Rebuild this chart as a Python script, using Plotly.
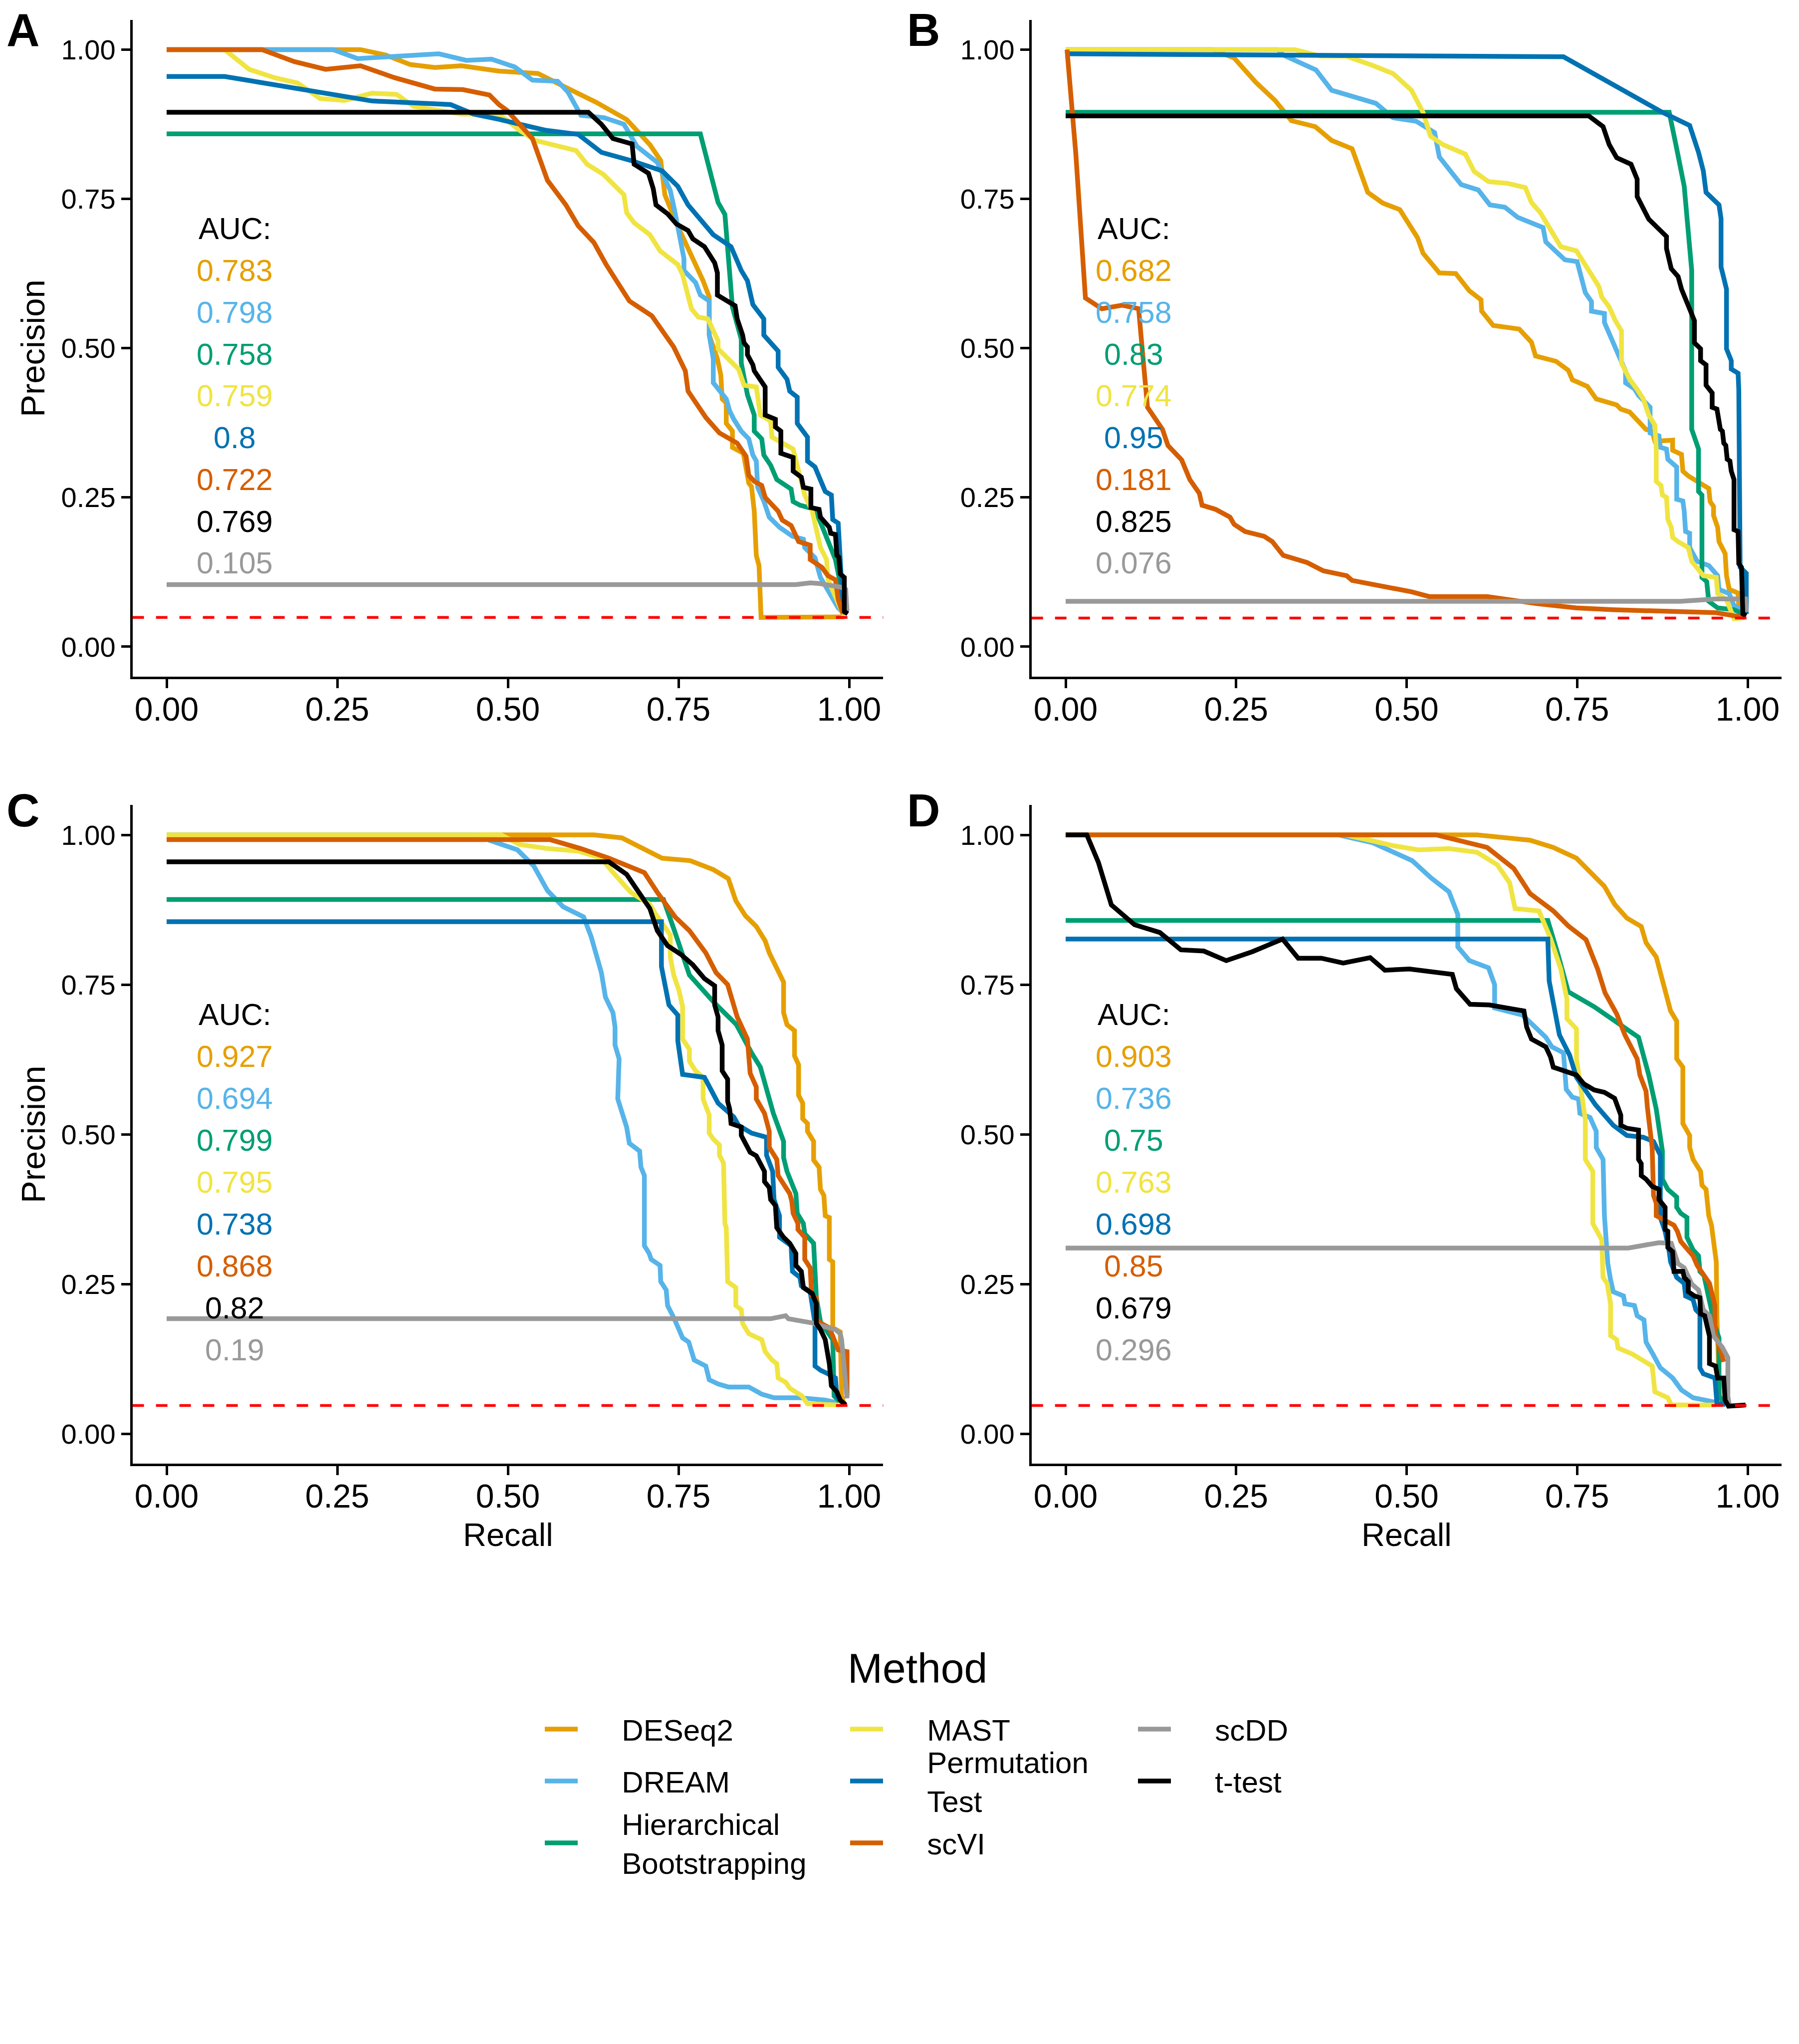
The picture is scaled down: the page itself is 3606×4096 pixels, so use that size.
import plotly.graph_objects as go

W, H = 3606, 4096
BODY_MARGIN = 8  # the page body margin that surrounds the plot div
FONT = "Liberation Sans, Arial, Helvetica, sans-serif"

METHODS = ["DESeq2", "DREAM", "Hierarchical Bootstrapping", "MAST",
           "Permutation Test", "scVI", "scDD", "t-test"]
LEGEND_LABELS = ["DESeq2", "DREAM", "Hierarchical<br>Bootstrapping", "MAST",
                 "Permutation<br>Test", "scVI", "scDD", "t-test"]
COLORS = ["#E69F00", "#56B4E9", "#009E73", "#F0E442",
          "#0072B2", "#D55E00", "#999999", "#000000"]
PANELS = ["A", "B", "C", "D"]
TICK_VALUES = [0, 0.25, 0.5, 0.75, 1.0]
TICK_LABELS = ["0.00", "0.25", "0.50", "0.75", "1.00"]
BASELINE = [0.049, 0.048, 0.047, 0.047]

# AUC values, in method order (DESeq2, DREAM, Hier., MAST, Perm., scVI, scDD, t-test)
AUC_A = [0.783, 0.798, 0.758, 0.759, 0.8, 0.722, 0.105, 0.769]
AUC_B = [0.682, 0.758, 0.83, 0.774, 0.95, 0.181, 0.076, 0.825]
AUC_C = [0.927, 0.694, 0.799, 0.795, 0.738, 0.868, 0.19, 0.82]
AUC_D = [0.903, 0.736, 0.75, 0.763, 0.698, 0.85, 0.296, 0.679]
AUC_ROW_ORDER = [0, 1, 2, 3, 4, 5, 7, 6]  # t-test listed before scDD

# ---------------- Panel A (recall, precision) ----------------
A_DESEQ2 = [(0, 1.0), (0.284, 1.0), (0.321, 0.991), (0.357, 0.975), (0.393, 0.970), (0.432, 0.973),
            (0.487, 0.964), (0.544, 0.960), (0.581, 0.939), (0.629, 0.912), (0.674, 0.883), (0.708, 0.841),
            (0.724, 0.814), (0.730, 0.757), (0.749, 0.704), (0.775, 0.643), (0.786, 0.613), (0.795, 0.586),
            (0.795, 0.522), (0.807, 0.482), (0.812, 0.455), (0.814, 0.415), (0.820, 0.408), (0.820, 0.374),
            (0.829, 0.361), (0.829, 0.334), (0.845, 0.324), (0.853, 0.274), (0.857, 0.268), (0.861, 0.227),
            (0.864, 0.153), (0.868, 0.136), (0.871, 0.049), (0.993, 0.050)]
A_DREAM = [(0, 1.0), (0.244, 1.0), (0.280, 0.985), (0.399, 0.993), (0.439, 0.982), (0.476, 0.984),
           (0.510, 0.971), (0.536, 0.949), (0.573, 0.947), (0.588, 0.929), (0.607, 0.890), (0.641, 0.886),
           (0.670, 0.875), (0.689, 0.838), (0.719, 0.811), (0.738, 0.764), (0.745, 0.727), (0.758, 0.650),
           (0.758, 0.630), (0.775, 0.610), (0.782, 0.589), (0.795, 0.579), (0.795, 0.522), (0.801, 0.482),
           (0.801, 0.442), (0.820, 0.415), (0.825, 0.395), (0.831, 0.381), (0.842, 0.361), (0.853, 0.348),
           (0.859, 0.321), (0.864, 0.311), (0.866, 0.267), (0.875, 0.244), (0.883, 0.217), (0.898, 0.200),
           (0.917, 0.185), (0.933, 0.180), (0.935, 0.166), (0.950, 0.149), (0.958, 0.116), (0.971, 0.092),
           (0.984, 0.065), (0.993, 0.055)]
A_HIER = [(0, 0.859), (0.782, 0.859), (0.808, 0.744), (0.818, 0.724), (0.829, 0.569), (0.842, 0.515),
          (0.842, 0.475), (0.851, 0.422), (0.861, 0.388), (0.861, 0.361), (0.872, 0.348), (0.875, 0.321),
          (0.885, 0.304), (0.894, 0.280), (0.915, 0.264), (0.918, 0.243), (0.928, 0.237), (0.950, 0.230),
          (0.961, 0.200), (0.969, 0.176), (0.980, 0.146), (0.987, 0.106), (0.993, 0.055)]
A_MAST = [(0, 1.0), (0.085, 1.0), (0.121, 0.967), (0.158, 0.953), (0.192, 0.944), (0.225, 0.918),
          (0.261, 0.915), (0.301, 0.927), (0.337, 0.925), (0.362, 0.905), (0.432, 0.892), (0.487, 0.892),
          (0.517, 0.865), (0.540, 0.848), (0.600, 0.831), (0.616, 0.808), (0.640, 0.791), (0.670, 0.757),
          (0.674, 0.727), (0.685, 0.710), (0.708, 0.690), (0.723, 0.663), (0.749, 0.640), (0.756, 0.623),
          (0.769, 0.566), (0.779, 0.552), (0.793, 0.549), (0.808, 0.512), (0.808, 0.499), (0.820, 0.485),
          (0.838, 0.465), (0.846, 0.438), (0.864, 0.435), (0.870, 0.388), (0.885, 0.378), (0.887, 0.351),
          (0.918, 0.331), (0.926, 0.294), (0.935, 0.254), (0.946, 0.227), (0.958, 0.166), (0.967, 0.146),
          (0.969, 0.113), (0.987, 0.065), (0.993, 0.052)]
A_PERM = [(0, 0.955), (0.085, 0.955), (0.301, 0.914), (0.416, 0.908), (0.450, 0.892), (0.488, 0.883),
          (0.555, 0.865), (0.603, 0.858), (0.637, 0.828), (0.681, 0.814), (0.726, 0.797), (0.749, 0.771),
          (0.764, 0.740), (0.801, 0.690), (0.827, 0.670), (0.842, 0.630), (0.851, 0.613), (0.859, 0.573),
          (0.875, 0.549), (0.875, 0.522), (0.896, 0.495), (0.896, 0.468), (0.909, 0.448), (0.913, 0.428),
          (0.924, 0.418), (0.924, 0.374), (0.939, 0.351), (0.939, 0.311), (0.950, 0.301), (0.958, 0.277),
          (0.965, 0.260), (0.974, 0.254), (0.976, 0.213), (0.984, 0.207), (0.987, 0.139), (0.991, 0.065),
          (0.995, 0.055)]
A_SCVI = [(0, 1.0), (0.140, 1.0), (0.187, 0.980), (0.233, 0.967), (0.284, 0.973), (0.334, 0.953),
          (0.393, 0.934), (0.434, 0.933), (0.473, 0.924), (0.487, 0.908), (0.499, 0.898), (0.536, 0.851),
          (0.558, 0.781), (0.585, 0.740), (0.603, 0.705), (0.626, 0.677), (0.644, 0.640), (0.678, 0.579),
          (0.711, 0.554), (0.743, 0.502), (0.760, 0.462), (0.764, 0.428), (0.790, 0.384), (0.810, 0.358),
          (0.836, 0.341), (0.849, 0.319), (0.853, 0.287), (0.861, 0.277), (0.872, 0.270), (0.877, 0.250),
          (0.896, 0.227), (0.902, 0.212), (0.915, 0.203), (0.926, 0.176), (0.943, 0.170), (0.943, 0.146),
          (0.960, 0.133), (0.969, 0.119), (0.980, 0.112), (0.984, 0.079), (0.991, 0.055)]
A_SCDD = [(0, 0.104), (0.922, 0.104), (0.943, 0.107), (0.955, 0.106), (0.987, 0.100), (0.995, 0.096),
          (0.997, 0.059)]
A_TTEST = [(0, 0.895), (0.618, 0.895), (0.637, 0.875), (0.654, 0.851), (0.682, 0.842), (0.685, 0.808),
           (0.706, 0.793), (0.713, 0.767), (0.717, 0.740), (0.734, 0.725), (0.747, 0.708), (0.764, 0.697),
           (0.771, 0.683), (0.788, 0.670), (0.803, 0.643), (0.807, 0.626), (0.807, 0.589), (0.833, 0.571),
           (0.836, 0.549), (0.844, 0.522), (0.846, 0.509), (0.851, 0.502), (0.851, 0.489), (0.859, 0.472),
           (0.861, 0.462), (0.877, 0.435), (0.877, 0.388), (0.892, 0.381), (0.892, 0.368), (0.900, 0.361),
           (0.900, 0.324), (0.918, 0.317), (0.918, 0.294), (0.930, 0.284), (0.933, 0.267), (0.944, 0.264),
           (0.944, 0.233), (0.956, 0.230), (0.958, 0.217), (0.971, 0.200), (0.973, 0.190), (0.980, 0.188),
           (0.982, 0.153), (0.985, 0.150), (0.987, 0.122), (0.993, 0.116), (0.993, 0.059), (0.998, 0.055)]

# ---------------- Panel B ----------------
B_DESEQ2 = [(0, 1.0), (0.215, 1.0), (0.247, 0.986), (0.279, 0.945), (0.307, 0.915), (0.331, 0.881),
            (0.366, 0.871), (0.390, 0.848), (0.420, 0.834), (0.443, 0.761), (0.465, 0.743), (0.490, 0.732),
            (0.516, 0.685), (0.524, 0.659), (0.548, 0.626), (0.572, 0.625), (0.592, 0.596), (0.609, 0.581),
            (0.610, 0.562), (0.627, 0.538), (0.665, 0.532), (0.683, 0.510), (0.689, 0.487), (0.719, 0.478),
            (0.737, 0.463), (0.743, 0.447), (0.765, 0.436), (0.778, 0.415), (0.808, 0.405), (0.814, 0.398),
            (0.827, 0.393), (0.838, 0.380), (0.851, 0.364), (0.860, 0.361), (0.864, 0.344), (0.890, 0.346),
            (0.890, 0.329), (0.903, 0.322), (0.905, 0.294), (0.913, 0.286), (0.931, 0.274), (0.943, 0.265),
            (0.945, 0.243), (0.950, 0.235), (0.950, 0.220), (0.956, 0.200), (0.958, 0.176), (0.967, 0.156),
            (0.969, 0.119), (0.973, 0.096), (0.986, 0.090), (0.987, 0.065), (0.993, 0.051)]
B_DREAM = [(0, 1.0), (0.311, 1.0), (0.319, 0.991), (0.367, 0.966), (0.390, 0.932), (0.455, 0.910),
           (0.480, 0.886), (0.514, 0.880), (0.541, 0.861), (0.548, 0.820), (0.580, 0.774), (0.605, 0.765),
           (0.622, 0.740), (0.644, 0.736), (0.663, 0.719), (0.700, 0.702), (0.704, 0.678), (0.732, 0.648),
           (0.750, 0.645), (0.762, 0.593), (0.771, 0.578), (0.771, 0.562), (0.790, 0.558), (0.790, 0.543),
           (0.812, 0.485), (0.821, 0.462), (0.821, 0.442), (0.834, 0.432), (0.840, 0.421), (0.852, 0.408),
           (0.857, 0.401), (0.857, 0.358), (0.870, 0.353), (0.872, 0.334), (0.881, 0.331), (0.883, 0.314),
           (0.896, 0.301), (0.896, 0.247), (0.905, 0.244), (0.907, 0.227), (0.909, 0.193), (0.915, 0.190),
           (0.915, 0.166), (0.926, 0.143), (0.943, 0.136), (0.956, 0.119), (0.958, 0.096), (0.973, 0.089),
           (0.980, 0.069), (0.991, 0.062), (0.993, 0.052)]
B_HIER = [(0, 0.895), (0.885, 0.895), (0.896, 0.834), (0.907, 0.771), (0.918, 0.630), (0.918, 0.364),
          (0.922, 0.351), (0.928, 0.331), (0.928, 0.260), (0.933, 0.254), (0.933, 0.116), (0.940, 0.109),
          (0.943, 0.076), (0.956, 0.065), (0.980, 0.062), (0.993, 0.055)]
B_MAST = [(0, 1.0), (0.336, 1.0), (0.374, 0.989), (0.411, 0.989), (0.449, 0.974), (0.480, 0.960),
          (0.507, 0.932), (0.524, 0.895), (0.535, 0.855), (0.553, 0.841), (0.586, 0.825), (0.599, 0.796),
          (0.620, 0.779), (0.648, 0.776), (0.674, 0.769), (0.683, 0.744), (0.696, 0.727), (0.709, 0.703),
          (0.726, 0.670), (0.749, 0.663), (0.771, 0.623), (0.782, 0.603), (0.786, 0.586), (0.797, 0.569),
          (0.806, 0.546), (0.815, 0.529), (0.815, 0.475), (0.827, 0.448), (0.838, 0.431), (0.847, 0.415),
          (0.855, 0.388), (0.864, 0.371), (0.866, 0.331), (0.866, 0.277), (0.873, 0.270), (0.875, 0.254),
          (0.881, 0.250), (0.883, 0.213), (0.888, 0.200), (0.890, 0.183), (0.898, 0.176), (0.913, 0.166),
          (0.918, 0.143), (0.935, 0.119), (0.954, 0.116), (0.956, 0.089), (0.969, 0.079), (0.976, 0.059),
          (0.980, 0.047), (0.991, 0.048)]
B_PERM = [(0, 0.993), (0.730, 0.988), (0.875, 0.895), (0.915, 0.873), (0.928, 0.828), (0.935, 0.797),
          (0.939, 0.761), (0.958, 0.740), (0.961, 0.717), (0.961, 0.636), (0.969, 0.599), (0.969, 0.499),
          (0.976, 0.479), (0.976, 0.465), (0.986, 0.458), (0.987, 0.431), (0.989, 0.133), (0.998, 0.123),
          (0.998, 0.055)]
B_SCVI = [(0.002, 1.0), (0.015, 0.824), (0.029, 0.584), (0.053, 0.566), (0.083, 0.572), (0.107, 0.566),
          (0.112, 0.502), (0.120, 0.401), (0.142, 0.364), (0.150, 0.337), (0.170, 0.313), (0.182, 0.280),
          (0.196, 0.257), (0.200, 0.237), (0.220, 0.230), (0.241, 0.217), (0.247, 0.205), (0.263, 0.193),
          (0.291, 0.185), (0.303, 0.176), (0.319, 0.153), (0.354, 0.141), (0.378, 0.127), (0.412, 0.119),
          (0.420, 0.111), (0.465, 0.102), (0.507, 0.092), (0.533, 0.084), (0.618, 0.084), (0.692, 0.072),
          (0.749, 0.065), (0.801, 0.062), (0.860, 0.060), (0.954, 0.057), (0.995, 0.049)]
B_SCDD = [(0, 0.076), (0.901, 0.076), (0.954, 0.080), (0.997, 0.080), (0.998, 0.058)]
B_TTEST = [(0, 0.889), (0.767, 0.889), (0.788, 0.871), (0.797, 0.841), (0.808, 0.819), (0.829, 0.808),
           (0.838, 0.783), (0.838, 0.754), (0.855, 0.716), (0.881, 0.687), (0.881, 0.667), (0.888, 0.633),
           (0.898, 0.620), (0.903, 0.599), (0.922, 0.546), (0.922, 0.509), (0.931, 0.499), (0.931, 0.479),
           (0.939, 0.472), (0.939, 0.438), (0.948, 0.425), (0.948, 0.401), (0.955, 0.398), (0.958, 0.381),
           (0.960, 0.364), (0.963, 0.361), (0.965, 0.341), (0.968, 0.337), (0.970, 0.314), (0.974, 0.311),
           (0.976, 0.294), (0.980, 0.280), (0.980, 0.196), (0.986, 0.193), (0.987, 0.139), (0.991, 0.133),
           (0.993, 0.055), (0.998, 0.052)]

# ---------------- Panel C ----------------
C_DESEQ2 = [(0, 1.0), (0.626, 1.0), (0.667, 0.995), (0.726, 0.961), (0.767, 0.957), (0.801, 0.942),
            (0.823, 0.927), (0.834, 0.890), (0.848, 0.865), (0.864, 0.847), (0.877, 0.823), (0.883, 0.803),
            (0.904, 0.754), (0.904, 0.703), (0.909, 0.683), (0.920, 0.673), (0.920, 0.631), (0.926, 0.616),
            (0.926, 0.565), (0.932, 0.552), (0.932, 0.526), (0.939, 0.518), (0.939, 0.505), (0.948, 0.488),
            (0.948, 0.457), (0.956, 0.445), (0.958, 0.408), (0.963, 0.398), (0.965, 0.364), (0.971, 0.361),
            (0.971, 0.291), (0.976, 0.287), (0.976, 0.177), (0.987, 0.170), (0.989, 0.063), (0.993, 0.048)]
C_DREAM = [(0, 1.0), (0.455, 1.0), (0.473, 0.991), (0.514, 0.975), (0.538, 0.948), (0.558, 0.907),
           (0.581, 0.880), (0.611, 0.863), (0.622, 0.830), (0.637, 0.770), (0.643, 0.729), (0.654, 0.703),
           (0.657, 0.679), (0.657, 0.649), (0.663, 0.626), (0.661, 0.559), (0.674, 0.512), (0.678, 0.485),
           (0.693, 0.472), (0.695, 0.445), (0.700, 0.431), (0.700, 0.314), (0.707, 0.301), (0.710, 0.291),
           (0.723, 0.281), (0.724, 0.254), (0.732, 0.240), (0.734, 0.214), (0.743, 0.194), (0.749, 0.180),
           (0.756, 0.160), (0.765, 0.153), (0.773, 0.123), (0.790, 0.113), (0.795, 0.090), (0.808, 0.083),
           (0.823, 0.078), (0.853, 0.078), (0.872, 0.066), (0.890, 0.060), (0.928, 0.060), (0.965, 0.056),
           (0.987, 0.051), (0.993, 0.049)]
C_HIER = [(0, 0.892), (0.728, 0.892), (0.745, 0.837), (0.766, 0.766), (0.803, 0.719), (0.835, 0.683),
          (0.857, 0.636), (0.870, 0.612), (0.889, 0.535), (0.904, 0.488), (0.904, 0.461), (0.909, 0.438),
          (0.922, 0.401), (0.924, 0.368), (0.933, 0.351), (0.935, 0.334), (0.948, 0.318), (0.950, 0.281),
          (0.952, 0.227), (0.958, 0.187), (0.973, 0.163), (0.976, 0.157), (0.978, 0.063), (0.987, 0.053)]
C_MAST = [(0, 1.0), (0.490, 1.0), (0.517, 0.984), (0.559, 0.977), (0.603, 0.973), (0.637, 0.961),
          (0.652, 0.940), (0.680, 0.904), (0.708, 0.884), (0.717, 0.867), (0.738, 0.833), (0.738, 0.796),
          (0.743, 0.766), (0.751, 0.739), (0.756, 0.713), (0.756, 0.659), (0.766, 0.642), (0.766, 0.622),
          (0.775, 0.606), (0.786, 0.595), (0.786, 0.559), (0.795, 0.532), (0.795, 0.502), (0.801, 0.492),
          (0.810, 0.482), (0.810, 0.465), (0.816, 0.452), (0.818, 0.351), (0.820, 0.344), (0.822, 0.254),
          (0.834, 0.244), (0.834, 0.214), (0.842, 0.207), (0.844, 0.184), (0.853, 0.167), (0.872, 0.157),
          (0.877, 0.137), (0.887, 0.123), (0.894, 0.117), (0.896, 0.093), (0.907, 0.086), (0.913, 0.076),
          (0.931, 0.063), (0.939, 0.050), (0.984, 0.048), (0.993, 0.049)]
C_PERM = [(0, 0.855), (0.725, 0.855), (0.725, 0.780), (0.736, 0.716), (0.749, 0.699), (0.749, 0.656),
          (0.756, 0.600), (0.788, 0.595), (0.808, 0.552), (0.831, 0.529), (0.838, 0.515), (0.857, 0.502),
          (0.879, 0.495), (0.879, 0.465), (0.888, 0.438), (0.890, 0.391), (0.898, 0.364), (0.898, 0.328),
          (0.915, 0.314), (0.917, 0.271), (0.928, 0.261), (0.930, 0.247), (0.943, 0.237), (0.950, 0.184),
          (0.950, 0.113), (0.958, 0.106), (0.969, 0.100), (0.980, 0.093), (0.982, 0.063), (0.991, 0.051)]
C_SCVI = [(0, 0.992), (0.562, 0.992), (0.607, 0.977), (0.648, 0.961), (0.700, 0.937), (0.719, 0.904),
          (0.745, 0.863), (0.766, 0.840), (0.790, 0.803), (0.805, 0.770), (0.822, 0.750), (0.836, 0.696),
          (0.851, 0.659), (0.853, 0.629), (0.855, 0.602), (0.864, 0.579), (0.864, 0.559), (0.876, 0.535),
          (0.883, 0.505), (0.883, 0.478), (0.894, 0.458), (0.896, 0.431), (0.913, 0.401), (0.916, 0.388),
          (0.918, 0.368), (0.925, 0.351), (0.925, 0.341), (0.935, 0.328), (0.935, 0.291), (0.943, 0.277),
          (0.945, 0.231), (0.952, 0.227), (0.952, 0.190), (0.961, 0.183), (0.971, 0.177), (0.976, 0.163),
          (0.984, 0.140), (0.997, 0.137), (0.997, 0.063)]
C_SCDD = [(0, 0.192), (0.885, 0.192), (0.907, 0.197), (0.911, 0.192), (0.946, 0.185), (0.953, 0.182),
          (0.980, 0.174), (0.987, 0.167), (0.989, 0.157), (0.995, 0.083), (0.997, 0.059)]
C_TTEST = [(0, 0.955), (0.648, 0.955), (0.674, 0.934), (0.708, 0.877), (0.719, 0.840), (0.734, 0.815),
           (0.754, 0.800), (0.771, 0.783), (0.788, 0.760), (0.803, 0.748), (0.803, 0.716), (0.808, 0.696),
           (0.808, 0.673), (0.814, 0.649), (0.814, 0.606), (0.822, 0.592), (0.822, 0.555), (0.825, 0.542),
           (0.827, 0.518), (0.842, 0.512), (0.842, 0.498), (0.855, 0.470), (0.864, 0.464), (0.876, 0.438),
           (0.876, 0.421), (0.883, 0.411), (0.885, 0.391), (0.892, 0.381), (0.894, 0.344), (0.904, 0.328),
           (0.913, 0.318), (0.922, 0.301), (0.922, 0.281), (0.930, 0.271), (0.933, 0.244), (0.946, 0.234),
           (0.952, 0.217), (0.952, 0.184), (0.958, 0.174), (0.965, 0.157), (0.971, 0.117), (0.974, 0.080),
           (0.982, 0.070), (0.987, 0.056), (0.995, 0.048)]

# ---------------- Panel D ----------------
D_DESEQ2 = [(0, 1.0), (0.603, 1.0), (0.681, 0.991), (0.715, 0.979), (0.749, 0.961), (0.771, 0.937),
            (0.790, 0.914), (0.805, 0.884), (0.823, 0.861), (0.844, 0.847), (0.851, 0.820), (0.866, 0.796),
            (0.872, 0.770), (0.877, 0.753), (0.887, 0.706), (0.896, 0.689), (0.896, 0.626), (0.905, 0.612),
            (0.905, 0.518), (0.915, 0.498), (0.915, 0.478), (0.920, 0.458), (0.931, 0.438), (0.933, 0.415),
            (0.939, 0.408), (0.943, 0.364), (0.947, 0.348), (0.954, 0.287), (0.955, 0.194), (0.959, 0.056),
            (0.964, 0.048)]
D_DREAM = [(0, 1.0), (0.400, 1.0), (0.450, 0.987), (0.508, 0.957), (0.536, 0.928), (0.562, 0.905),
           (0.575, 0.867), (0.575, 0.813), (0.592, 0.790), (0.620, 0.778), (0.629, 0.750), (0.629, 0.711),
           (0.670, 0.699), (0.704, 0.662), (0.713, 0.646), (0.730, 0.636), (0.734, 0.575), (0.743, 0.562),
           (0.752, 0.559), (0.754, 0.535), (0.769, 0.528), (0.778, 0.505), (0.778, 0.478), (0.788, 0.458),
           (0.790, 0.364), (0.795, 0.284), (0.799, 0.257), (0.803, 0.237), (0.818, 0.230), (0.820, 0.217),
           (0.834, 0.214), (0.838, 0.197), (0.848, 0.190), (0.851, 0.153), (0.861, 0.133), (0.872, 0.110),
           (0.890, 0.093), (0.903, 0.073), (0.920, 0.060), (0.954, 0.053), (0.968, 0.049)]
D_HIER = [(0, 0.857), (0.707, 0.857), (0.722, 0.800), (0.737, 0.738), (0.775, 0.713), (0.840, 0.662),
          (0.855, 0.599), (0.866, 0.542), (0.875, 0.472), (0.875, 0.425), (0.883, 0.408), (0.896, 0.395),
          (0.896, 0.378), (0.902, 0.368), (0.911, 0.361), (0.911, 0.328), (0.920, 0.307), (0.928, 0.297),
          (0.930, 0.271), (0.936, 0.264), (0.943, 0.227), (0.952, 0.180), (0.958, 0.160), (0.958, 0.063),
          (0.967, 0.049)]
D_MAST = [(0, 1.0), (0.410, 1.0), (0.450, 0.990), (0.480, 0.982), (0.517, 0.975), (0.562, 0.977),
          (0.603, 0.971), (0.633, 0.950), (0.651, 0.920), (0.659, 0.877), (0.694, 0.873), (0.711, 0.827),
          (0.726, 0.776), (0.735, 0.726), (0.735, 0.693), (0.749, 0.676), (0.749, 0.626), (0.758, 0.559),
          (0.762, 0.525), (0.762, 0.458), (0.773, 0.438), (0.773, 0.351), (0.779, 0.338), (0.786, 0.324),
          (0.788, 0.261), (0.794, 0.251), (0.799, 0.217), (0.799, 0.164), (0.808, 0.157), (0.810, 0.143),
          (0.831, 0.133), (0.846, 0.123), (0.860, 0.113), (0.864, 0.070), (0.883, 0.060), (0.888, 0.048),
          (0.954, 0.048)]
D_PERM = [(0, 0.826), (0.707, 0.826), (0.709, 0.756), (0.724, 0.666), (0.739, 0.632), (0.749, 0.595),
          (0.777, 0.549), (0.803, 0.515), (0.823, 0.498), (0.847, 0.495), (0.862, 0.488), (0.872, 0.465),
          (0.872, 0.361), (0.879, 0.338), (0.885, 0.304), (0.887, 0.287), (0.896, 0.261), (0.907, 0.251),
          (0.909, 0.230), (0.920, 0.224), (0.924, 0.207), (0.930, 0.200), (0.930, 0.110), (0.935, 0.100),
          (0.952, 0.093), (0.955, 0.050), (0.967, 0.049)]
D_SCVI = [(0, 1.0), (0.543, 1.0), (0.618, 0.979), (0.657, 0.944), (0.681, 0.902), (0.715, 0.873),
          (0.737, 0.848), (0.763, 0.825), (0.780, 0.776), (0.791, 0.736), (0.808, 0.701), (0.820, 0.666),
          (0.838, 0.626), (0.842, 0.599), (0.851, 0.572), (0.853, 0.545), (0.860, 0.478), (0.862, 0.398),
          (0.866, 0.385), (0.866, 0.364), (0.892, 0.348), (0.897, 0.338), (0.902, 0.321), (0.913, 0.307),
          (0.920, 0.297), (0.926, 0.281), (0.935, 0.267), (0.944, 0.251), (0.952, 0.214), (0.952, 0.170),
          (0.958, 0.147), (0.965, 0.120)]
D_SCDD = [(0, 0.310), (0.825, 0.310), (0.870, 0.319), (0.888, 0.318), (0.898, 0.284), (0.907, 0.277),
          (0.918, 0.250), (0.928, 0.240), (0.935, 0.207), (0.944, 0.197), (0.950, 0.163), (0.958, 0.153),
          (0.963, 0.144), (0.971, 0.127), (0.971, 0.063), (0.973, 0.048)]
D_TTEST = [(0, 1.0), (0.031, 1.0), (0.048, 0.954), (0.067, 0.883), (0.101, 0.850), (0.138, 0.837),
           (0.169, 0.808), (0.2025, 0.806), (0.2355, 0.790), (0.274, 0.805), (0.318, 0.826), (0.341, 0.794),
           (0.375, 0.794), (0.407, 0.786), (0.4465, 0.795), (0.468, 0.774), (0.504, 0.776), (0.567, 0.767),
           (0.573, 0.743), (0.593, 0.717), (0.621, 0.716), (0.672, 0.706), (0.676, 0.679), (0.683, 0.659),
           (0.704, 0.646), (0.711, 0.629), (0.715, 0.612), (0.749, 0.599), (0.760, 0.584), (0.775, 0.574),
           (0.790, 0.570), (0.805, 0.560), (0.814, 0.532), (0.814, 0.515), (0.823, 0.510), (0.840, 0.507),
           (0.840, 0.458), (0.844, 0.451), (0.844, 0.431), (0.851, 0.425), (0.860, 0.413), (0.870, 0.408),
           (0.870, 0.391), (0.879, 0.378), (0.879, 0.341), (0.883, 0.338), (0.883, 0.311), (0.890, 0.304),
           (0.892, 0.271), (0.905, 0.271), (0.907, 0.261), (0.913, 0.254), (0.913, 0.237), (0.922, 0.230),
           (0.930, 0.227), (0.931, 0.200), (0.937, 0.197), (0.944, 0.163), (0.944, 0.117), (0.953, 0.113),
           (0.956, 0.093), (0.965, 0.093), (0.967, 0.056), (0.972, 0.046), (0.997, 0.048)]

PANEL_SERIES = [
    [A_DESEQ2, A_DREAM, A_HIER, A_MAST, A_PERM, A_SCVI, A_SCDD, A_TTEST],
    [B_DESEQ2, B_DREAM, B_HIER, B_MAST, B_PERM, B_SCVI, B_SCDD, B_TTEST],
    [C_DESEQ2, C_DREAM, C_HIER, C_MAST, C_PERM, C_SCVI, C_SCDD, C_TTEST],
    [D_DESEQ2, D_DREAM, D_HIER, D_MAST, D_PERM, D_SCVI, D_SCDD, D_TTEST],
]
PANEL_AUC = [AUC_A, AUC_B, AUC_C, AUC_D]

# ---------------- layout geometry (pixels in the 3606x4096 page) ----------------
FW, FH = W - 2 * BODY_MARGIN, H - 2 * BODY_MARGIN


def px_x(p):
    return (p - BODY_MARGIN) / FW


def px_y(p):
    return 1 - (p - BODY_MARGIN) / FH


XDOM = [[px_x(265.6), px_x(1770.4)], [px_x(2067.7), px_x(3571.4)]]
YDOM = [[px_y(1355.8), px_y(39.6)], [px_y(2933.0), px_y(1613.0)]]
PANEL_POS = [(0, 0), (1, 0), (0, 1), (1, 1)]  # (col, row)
LETTER_TOP = [8, 1572]

LINE_W = 9.5
AX_W = 4.7

fig = go.Figure()

PAD = "\u00a0" * 5
legend_names = []
for lab in LEGEND_LABELS:
    legend_names.append("<br>".join(PAD + part for part in lab.split("<br>")))

for p, series_list in enumerate(PANEL_SERIES):
    sfx = "" if p == 0 else str(p + 1)
    for m, series in enumerate(series_list):
        xs = [pt[0] for pt in series]
        ys = [pt[1] for pt in series]
        fig.add_trace(go.Scatter(
            x=xs, y=ys, mode="lines",
            line=dict(color=COLORS[m], width=LINE_W),
            name=legend_names[m],
            xaxis="x" + sfx, yaxis="y" + sfx,
            legend="legend" if m == 0 else "legend%d" % (m + 1),
            showlegend=(p == 0),
            hoverinfo="skip",
        ))

layout = dict(
    width=FW, height=FH, autosize=False,
    margin=dict(l=0, r=0, t=0, b=0, pad=0),
    paper_bgcolor="white", plot_bgcolor="white",
    font=dict(family=FONT, color="black"),
)

annotations = []
shapes = []
for p in range(4):
    sfx = "" if p == 0 else str(p + 1)
    col, row = PANEL_POS[p]
    layout["xaxis" + sfx] = dict(
        domain=XDOM[col], anchor="y" + sfx, range=[-0.05, 1.05],
        tickmode="array", tickvals=TICK_VALUES, ticktext=TICK_LABELS,
        ticks="outside", ticklen=18, tickwidth=AX_W, tickcolor="black",
        ticklabelstandoff=-14,
        showline=True, linewidth=AX_W, linecolor="black",
        showgrid=False, zeroline=False,
        tickfont=dict(size=66, family=FONT, color="black"),
        fixedrange=True,
    )
    layout["yaxis" + sfx] = dict(
        domain=YDOM[row], anchor="x" + sfx, range=[-0.05, 1.05],
        tickmode="array", tickvals=TICK_VALUES, ticktext=TICK_LABELS,
        ticks="outside", ticklen=18, tickwidth=AX_W, tickcolor="black",
        showline=True, linewidth=AX_W, linecolor="black",
        showgrid=False, zeroline=False,
        tickfont=dict(size=56, family=FONT, color="black"),
        fixedrange=True,
    )
    # red dashed baseline
    shapes.append(dict(
        type="line", xref="x%s domain" % sfx, yref="y" + sfx,
        x0=0, x1=1, y0=BASELINE[p], y1=BASELINE[p],
        line=dict(color="#FF0000", width=5.5, dash="23px,24px"), layer="above",
    ))
    # AUC labels
    annotations.append(dict(
        x=0.1, y=0.70, xref="x" + sfx, yref="y" + sfx, text="AUC:",
        showarrow=False, xanchor="center", yanchor="middle",
        font=dict(size=61, family=FONT, color="black"),
    ))
    for row_i, m in enumerate(AUC_ROW_ORDER):
        annotations.append(dict(
            x=0.1, y=0.63 - 0.07 * row_i, xref="x" + sfx, yref="y" + sfx,
            text=str(PANEL_AUC[p][m]),
            showarrow=False, xanchor="center", yanchor="middle",
            font=dict(size=61, family=FONT, color=COLORS[m]),
        ))
    # panel letter
    annotations.append(dict(
        x=px_x(12 + 1805 * col), y=px_y(LETTER_TOP[row]), xref="paper", yref="paper",
        text="<b>%s</b>" % PANELS[p], showarrow=False, xanchor="left", yanchor="top",
        borderpad=0,
        font=dict(size=92, family=FONT, color="black"),
    ))

# axis titles
for row in range(2):
    annotations.append(dict(
        x=px_x(66), y=(YDOM[row][0] + YDOM[row][1]) / 2, xref="paper", yref="paper",
        text="Precision", textangle=-90, showarrow=False, xanchor="center", yanchor="middle",
        font=dict(size=67, family=FONT, color="black"),
    ))
for col in range(2):
    annotations.append(dict(
        x=(XDOM[col][0] + XDOM[col][1]) / 2, y=px_y(3075), xref="paper", yref="paper",
        text="Recall", showarrow=False, xanchor="center", yanchor="middle",
        font=dict(size=65, family=FONT, color="black"),
    ))
# legend title
annotations.append(dict(
    x=px_x(1839), y=px_y(3343), xref="paper", yref="paper",
    text="Method", showarrow=False, xanchor="center", yanchor="middle",
    font=dict(size=84, family=FONT, color="black"),
))

# legend grid: one legend per method, placed in a 3-column, column-major grid
LEG_COL_X = [1092, 1704, 2281]
LEG_ROW_Y = [3465, 3569, 3693]
LEG_CELL = [(0, 0), (0, 1), (0, 2), (1, 0), (1, 1), (1, 2), (2, 0), (2, 1)]
for m in range(len(METHODS)):
    key = "legend" if m == 0 else "legend%d" % (m + 1)
    c, r = LEG_CELL[m]
    layout[key] = dict(
        x=px_x(LEG_COL_X[c] - 5), y=px_y(LEG_ROW_Y[r]),
        xanchor="left", yanchor="middle", orientation="v",
        font=dict(size=60, family=FONT, color="black"),
        bgcolor="rgba(0,0,0,0)", borderwidth=0, itemwidth=66,
        itemclick=False, itemdoubleclick=False,
    )

layout["annotations"] = annotations
layout["shapes"] = shapes
fig.update_layout(**layout)
fig.write_html("out.html")
